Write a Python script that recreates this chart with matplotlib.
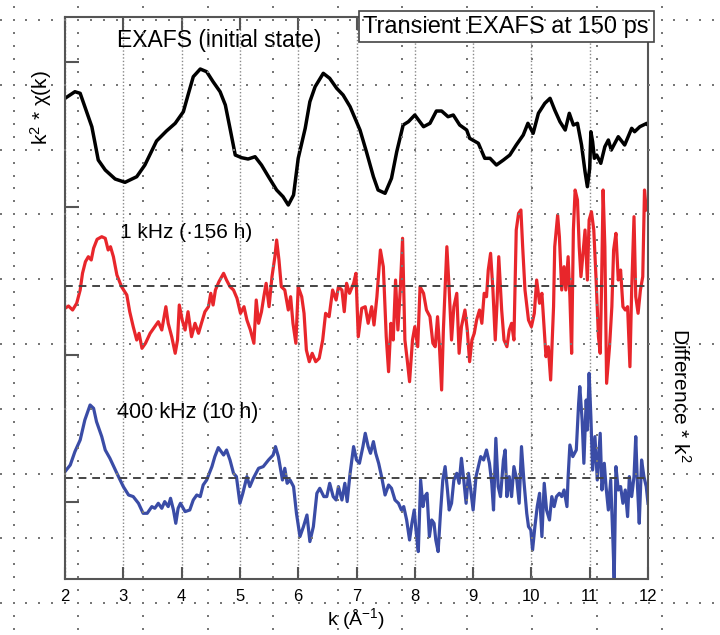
import numpy as np
import matplotlib
matplotlib.use("Agg")
import matplotlib.pyplot as plt

plt.rcParams['font.family'] = ['Liberation Sans', 'DejaVu Sans']
plt.rcParams['mathtext.fontset'] = 'custom'
plt.rcParams['mathtext.rm'] = 'Liberation Sans'
plt.rcParams['mathtext.it'] = 'Liberation Sans:italic'

# curves; values relative to each trace's own baseline
black_base = 43.9
red_base = 29.3
blue_base = 10.07

black_k = [2.00, 2.17, 2.26, 2.37, 2.46, 2.51, 2.57, 2.69, 2.86, 3.03,
           3.23, 3.37, 3.57, 3.74, 3.89, 4.03, 4.11, 4.20, 4.32, 4.43,
           4.54, 4.66, 4.75, 4.83, 4.92, 5.03, 5.14, 5.26, 5.37, 5.49,
           5.63, 5.74, 5.83, 5.92, 6.00, 6.12, 6.20, 6.29, 6.43, 6.54,
           6.66, 6.77, 6.89, 7.06, 7.17, 7.29, 7.37, 7.49, 7.60, 7.69,
           7.80, 7.89, 8.00, 8.15, 8.26, 8.37, 8.46, 8.57, 8.66, 8.77,
           8.89, 8.94, 9.09, 9.20, 9.29, 9.40, 9.52, 9.63, 9.74, 9.86,
           9.94, 10.03, 10.12, 10.23, 10.32, 10.40, 10.49, 10.58, 10.65, 10.72,
           10.79, 10.86, 10.92, 10.96, 11.00, 11.02, 11.05, 11.08, 11.12, 11.19,
           11.26, 11.32, 11.37, 11.49, 11.60, 11.72, 11.77, 11.86, 11.98, 12.00]
black_y = [4.17, 4.83, 4.67, 2.83, 1.33, -0.17, -2.00, -3.00, -3.90, -4.23,
           -3.67, -2.50, -0.10, 0.90, 1.67, 2.83, 4.50, 6.33, 7.10, 6.83,
           5.83, 4.83, 3.50, 1.17, -1.50, -1.77, -1.90, -1.67, -2.50, -3.67,
           -5.00, -5.67, -6.50, -5.50, -1.83, 1.17, 3.83, 5.33, 6.67, 6.17,
           5.17, 4.50, 3.33, 1.00, -1.17, -3.67, -5.00, -5.33, -3.83, -1.17,
           1.50, 1.83, 2.50, 1.33, 1.67, 2.90, 2.90, 2.33, 2.50, 1.50,
           1.00, 0.17, -0.33, -1.83, -1.83, -2.50, -2.00, -1.50, -0.50, 0.50,
           1.67, 0.67, 2.67, 3.67, 4.17, 3.00, 1.83, 1.00, 2.67, 1.50,
           1.67, -0.50, -3.17, -4.67, -2.83, 0.83, -0.17, -1.83, -1.50, -2.33,
           -0.67, 0.00, -1.00, 0.33, -0.50, 1.17, 0.83, 1.33, 1.67, 1.50]

red_k = [2.00, 2.06, 2.13, 2.20, 2.26, 2.30, 2.35, 2.40, 2.45, 2.49,
         2.55, 2.63, 2.69, 2.74, 2.78, 2.83, 2.89, 2.97, 3.06, 3.11,
         3.17, 3.23, 3.27, 3.32, 3.38, 3.46, 3.54, 3.60, 3.66, 3.73,
         3.77, 3.83, 3.89, 3.93, 3.96, 4.01, 4.06, 4.11, 4.17, 4.23,
         4.29, 4.34, 4.40, 4.46, 4.50, 4.54, 4.58, 4.64, 4.72, 4.77,
         4.83, 4.89, 4.95, 5.01, 5.07, 5.12, 5.18, 5.24, 5.28, 5.32,
         5.37, 5.41, 5.45, 5.50, 5.55, 5.60, 5.63, 5.67, 5.71, 5.77,
         5.83, 5.87, 5.91, 5.96, 6.00, 6.06, 6.10, 6.14, 6.19, 6.24,
         6.30, 6.36, 6.42, 6.47, 6.53, 6.59, 6.65, 6.69, 6.75, 6.79,
         6.83, 6.88, 6.95, 6.99, 7.03, 7.09, 7.15, 7.20, 7.26, 7.30,
         7.35, 7.41, 7.46, 7.51, 7.55, 7.59, 7.63, 7.67, 7.71, 7.75,
         7.79, 7.83, 7.87, 7.91, 7.96, 8.00, 8.05, 8.09, 8.15, 8.20,
         8.26, 8.31, 8.35, 8.39, 8.42, 8.46, 8.49, 8.55, 8.59, 8.63,
         8.67, 8.72, 8.76, 8.80, 8.86, 8.90, 8.94, 8.98, 9.02, 9.06,
         9.11, 9.15, 9.19, 9.23, 9.26, 9.30, 9.34, 9.38, 9.41, 9.44,
         9.49, 9.53, 9.58, 9.62, 9.66, 9.70, 9.74, 9.78, 9.82, 9.85,
         9.89, 9.95, 10.00, 10.05, 10.09, 10.14, 10.18, 10.22, 10.25, 10.29,
         10.33, 10.38, 10.40, 10.45, 10.48, 10.52, 10.56, 10.59, 10.63, 10.66,
         10.69, 10.72, 10.75, 10.79, 10.82, 10.85, 10.88, 10.92, 10.96, 10.99,
         11.03, 11.07, 11.11, 11.15, 11.18, 11.20, 11.23, 11.26, 11.29, 11.34,
         11.38, 11.41, 11.45, 11.49, 11.53, 11.57, 11.61, 11.65, 11.69, 11.72,
         11.76, 11.79, 11.83, 11.87, 11.91, 11.94, 11.97]
red_y = [-2.23, -2.00, -2.40, -1.73, -0.40, 1.27, 2.43, 2.93, 2.60, 3.77,
         4.67, 4.93, 4.77, 3.60, 3.93, 2.93, 1.10, -0.07, -0.90, -2.57,
         -4.07, -5.40, -4.73, -6.23, -5.73, -4.73, -4.07, -3.57, -4.40, -2.07,
         -3.73, -5.07, -6.73, -5.40, -1.90, -3.40, -4.40, -2.57, -5.07, -3.73,
         -4.73, -3.73, -2.57, -2.07, -0.73, -1.90, -0.40, 0.43, 1.27, 0.60,
         -0.07, -0.40, -1.23, -2.73, -2.07, -3.40, -4.40, -5.73, -1.40, -3.73,
         -2.57, -1.07, 0.27, -2.07, 0.93, 2.93, 4.60, 2.60, -0.07, -0.40,
         -2.40, -1.07, -3.73, -5.73, -0.07, -1.07, -2.73, -6.40, -7.57, -6.73,
         -7.57, -7.23, -5.40, -2.73, -3.07, -0.40, -1.40, -0.07, -0.40, -2.57,
         0.27, -0.73, 0.27, 1.27, -5.07, -2.23, -2.07, -3.73, -2.07, -3.90,
         -1.07, 3.60, 1.93, -5.07, -8.57, -3.73, -5.40, 0.60, -4.40, -0.40,
         4.77, -5.40, -7.40, -9.57, -5.40, -4.07, -6.07, -0.07, -0.73, -2.40,
         -3.07, -5.73, -6.07, -3.07, -5.73, -10.40, -4.40, 3.93, -0.40, -5.40,
         -2.07, -0.73, -6.73, -4.07, -2.40, -4.40, -7.57, -5.40, -4.73, -3.40,
         -2.40, -3.73, -0.73, -1.07, 1.60, 3.27, -0.40, -5.40, -1.73, 2.93,
         -2.40, -5.40, -6.07, -4.40, -3.73, -5.40, 5.60, 7.27, 7.60, 3.93,
         -0.40, -3.40, -4.07, -2.73, 0.60, -1.73, -0.73, -4.40, -7.07, -6.07,
         -9.40, -2.07, 3.93, 7.10, 4.93, -0.40, 1.93, -0.40, 2.93, -1.07,
         -6.73, 5.60, 9.60, 8.60, 3.93, 0.93, 2.93, 5.60, 0.60, 6.60,
         7.43, 5.60, 0.60, -5.07, -6.73, -1.07, 9.60, 3.93, -9.73, -6.07,
         -2.07, 3.60, 5.27, 0.60, 1.60, -2.07, -2.40, -2.07, -8.07, -0.40,
         6.93, -1.07, -2.73, -0.40, 0.93, 9.60, 7.60]

blue_k = [2.00, 2.09, 2.17, 2.26, 2.34, 2.43, 2.49, 2.54, 2.63, 2.69,
          2.77, 2.89, 3.00, 3.09, 3.17, 3.26, 3.34, 3.41, 3.49, 3.54,
          3.60, 3.66, 3.71, 3.77, 3.81, 3.86, 3.90, 3.94, 3.98, 4.06,
          4.14, 4.20, 4.26, 4.32, 4.37, 4.43, 4.52, 4.57, 4.63, 4.72,
          4.77, 4.83, 4.89, 4.94, 5.00, 5.05, 5.12, 5.17, 5.23, 5.32,
          5.40, 5.49, 5.57, 5.61, 5.66, 5.70, 5.73, 5.77, 5.81, 5.86,
          5.92, 5.97, 6.03, 6.09, 6.15, 6.20, 6.26, 6.32, 6.37, 6.44,
          6.49, 6.54, 6.60, 6.65, 6.69, 6.75, 6.80, 6.84, 6.89, 6.95,
          7.00, 7.05, 7.11, 7.15, 7.20, 7.24, 7.29, 7.33, 7.38, 7.43,
          7.49, 7.55, 7.60, 7.66, 7.72, 7.77, 7.81, 7.86, 7.91, 7.95,
          7.99, 8.02, 8.06, 8.10, 8.14, 8.17, 8.21, 8.25, 8.29, 8.33,
          8.36, 8.40, 8.44, 8.48, 8.52, 8.56, 8.59, 8.63, 8.67, 8.72,
          8.76, 8.80, 8.84, 8.88, 8.92, 8.96, 9.00, 9.05, 9.09, 9.13,
          9.18, 9.23, 9.28, 9.32, 9.35, 9.39, 9.43, 9.47, 9.52, 9.55,
          9.58, 9.62, 9.66, 9.70, 9.75, 9.79, 9.83, 9.87, 9.92, 9.95,
          9.99, 10.02, 10.06, 10.10, 10.14, 10.18, 10.22, 10.26, 10.31, 10.35,
          10.39, 10.43, 10.48, 10.52, 10.56, 10.61, 10.63, 10.66, 10.71, 10.77,
          10.81, 10.83, 10.87, 10.90, 10.94, 10.96, 10.99, 11.02, 11.05, 11.09,
          11.13, 11.18, 11.21, 11.25, 11.28, 11.32, 11.36, 11.40, 11.42, 11.45,
          11.49, 11.53, 11.57, 11.61, 11.65, 11.68, 11.72, 11.76, 11.79, 11.82,
          11.85, 11.89, 11.93, 11.97, 12.00]
blue_y = [0.67, 1.33, 2.67, 3.83, 5.83, 7.33, 7.00, 5.67, 4.17, 2.83,
          2.00, 0.50, -0.83, -1.67, -1.83, -2.50, -3.50, -3.50, -2.83, -3.00,
          -2.50, -3.00, -2.33, -2.83, -2.00, -3.17, -4.50, -3.00, -2.50, -3.33,
          -3.17, -2.17, -1.67, -1.83, -0.67, -0.17, 1.17, 2.17, 3.07, 2.33,
          2.83, 1.83, 0.50, 0.17, -2.50, -1.50, 0.17, -0.83, 0.00, 1.00,
          1.17, 1.83, 2.33, 3.17, 2.17, 0.83, -0.17, 1.00, -0.50, -0.17,
          -0.83, -3.50, -5.83, -4.83, -3.67, -6.33, -4.83, -1.50, -1.00, -1.83,
          -1.83, -0.50, -1.83, -2.17, -0.83, -2.17, -0.50, -2.33, 0.50, 3.17,
          1.83, 1.50, 3.17, 4.50, 3.17, 2.50, 3.67, 2.50, 1.50, 0.17,
          -1.67, -0.67, -1.00, -2.17, -2.50, -3.17, -2.83, -4.17, -6.17, -4.50,
          -3.17, -5.17, -7.33, -0.17, -2.83, -1.83, -1.50, -5.83, -4.17, -4.50,
          -6.17, -7.33, -3.50, -0.17, 1.17, -1.17, -3.17, -2.50, -0.17, 0.50,
          -0.50, 2.00, -0.17, -2.50, 0.50, -1.17, -3.17, 0.17, 1.17, 2.17,
          1.83, 2.83, 1.50, -0.50, -3.17, 4.00, -0.83, -1.83, 1.83, 2.83,
          -1.83, 0.17, -1.83, 1.17, -0.17, -2.50, 3.17, -0.17, -3.50, -4.83,
          -5.17, -7.17, -4.83, -2.83, -1.50, -5.83, -0.50, -3.17, -4.17, -1.83,
          -2.83, -1.83, -1.50, -1.83, -1.17, -2.83, 0.17, 3.33, 2.17, 2.83,
          7.50, 9.17, 5.83, 1.50, 7.83, 4.83, 10.50, 6.17, 0.83, 4.17,
          -0.17, 4.50, -1.17, 1.50, -0.83, -3.17, -0.17, -6.50, -10.17, 1.17,
          -1.17, -0.83, -2.50, -1.17, -3.83, 0.17, -1.83, 0.17, 4.17, -0.83,
          -4.50, 1.83, 0.17, -0.83, -2.50]

k_ticks = list(range(2, 13))
left_ticks = [7.7, 22.4, 37.2, 51.7]

fig = plt.figure(figsize=(7.2, 6.35), dpi=100)
ax = fig.add_axes([0.0903, 0.0882, 0.8097, 0.885])

ax.plot(black_k, np.array(black_y) + black_base, color='black', lw=2.5)
ax.plot(red_k, np.array(red_y) + red_base, color='#e8262b', lw=2.3)
ax.plot(blue_k, np.array(blue_y) + blue_base, color='#3a4ca6', lw=2.3)
ax.axhline(red_base, color='#444444', lw=1.4, ls=(0, (4, 3)))
ax.axhline(blue_base, color='#444444', lw=1.4, ls=(0, (4, 3)))

ax.set_xlim(2, 12)
ax.set_ylim(0, 56.2)
ax.set_xticks(k_ticks)
ax.set_yticks(left_ticks)
ax.grid(axis='x', color='#888888', lw=1.0, ls=(0, (1, 1.5)))
ax.tick_params(axis='x', direction='in', top=True, length=9, width=1.5,
               color='#555555', labelsize=12, pad=7)
ax.tick_params(axis='y', direction='in', left=True, right=False, length=10,
               width=1.5, color='#555555', labelleft=False)
for s in ax.spines.values():
    s.set_color('#555555')
    s.set_linewidth(1.5)

ax.text(2.89, 53.9, 'EXAFS (initial state)', fontsize=16.5, va='center')
ax.text(2.94, 34.7, '1 kHz (·156 h)', fontsize=15, va='center')
ax.text(2.89, 16.7, '400 kHz (10 h)', fontsize=15.5, va='center')

ax.set_xlabel('k (Å$^{-1}$)', fontsize=14, labelpad=2)
fig.text(0.057, 0.83, 'k$^{2}$ * χ(k)', fontsize=15, rotation=90,
         ha='center', va='center')
fig.text(0.945, 0.378, 'Difference * k$^{2}$', fontsize=15, rotation=270,
         ha='center', va='center')
fig.text(0.703, 0.958, 'Transient EXAFS at 150 ps', fontsize=17,
         ha='center', va='center',
         bbox=dict(boxstyle='square,pad=0.2', fc='white', ec='#444444', lw=1.2))

# dotted slide grid sitting on top of everything
ov = fig.add_axes([0, 0, 1, 1], zorder=10)
ov.set_xlim(0, 720)
ov.set_ylim(635, 0)
ov.axis('off')
ov.patch.set_alpha(0)
step = 12.96
cols = 13.5 + 64.8 * np.arange(11)
rows = 20 + 64.8 * np.arange(10)
xs_fine = 13.5 + step * np.arange(-1, 55)
ys_fine = 20 + step * np.arange(-1, 49)
px, py = [], []
for r in rows:
    px += list(xs_fine)
    py += [r] * len(xs_fine)
for c in cols:
    px += [c] * len(ys_fine)
    py += list(ys_fine)
ov.scatter(px, py, s=1.6, marker='s', color='#777777', lw=0)

fig.savefig('out.png', dpi=100)
